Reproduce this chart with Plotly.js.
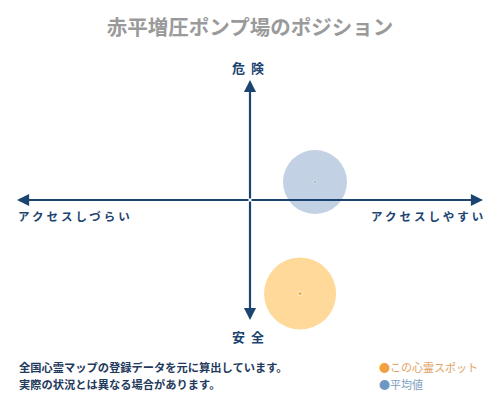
<!DOCTYPE html>
<html>
<head>
<meta charset="utf-8">
<script src="https://cdn.plot.ly/plotly-3.0.1.min.js"></script>
<style>
  body { margin: 0; background: #fff; }
  #chart { width: 500px; height: 400px; }
</style>
</head>
<body>
<div id="chart"></div>
<script>
// position of this spot and the average, on a -1..1 grid
var spotNames = ['この心霊スポット', '平均値'];
var spotX = [0.215, 0.279];
var spotY = [-0.78, 0.15];
var spotColors = ['#fdc96d', '#a8bdd7'];
var dotColors = ['#f4a52a', '#1f3550'];

var axisLabels = ['危険', '安全', 'アクセスしづらい', 'アクセスしやすい'];
var noteLines = ['全国心霊マップの登録データを元に算出しています。', '実際の状況とは異なる場合があります。'];

var font = '"Noto Sans CJK JP", "Noto Sans", sans-serif';
var navy = '#1c4470';

// plot area in pixels, used to place the free texts
var padL = 17, padT = 80, plotW = 466, plotH = 240;
function px(x) { return (x - padL) / plotW; }
function py(y) { return 1 - (y - padT) / plotH; }

var circles = {
  x: spotX, y: spotY, mode: 'markers', type: 'scatter', hoverinfo: 'skip', cliponaxis: false,
  marker: { size: [72, 64], color: spotColors, line: { width: 0 } }
};
var dots = {
  x: spotX, y: spotY, mode: 'markers', type: 'scatter', hoverinfo: 'skip', cliponaxis: false,
  marker: { size: [4.5, 2.5], color: dotColors }
};

function arrow(x, y) {
  return {
    x: x, y: y, ax: 0, ay: 0, xref: 'x', yref: 'y', axref: 'x', ayref: 'y',
    text: '', showarrow: true, arrowhead: 2, arrowsize: 1.1, arrowwidth: 2.2,
    arrowcolor: navy, standoff: 0, startstandoff: 0
  };
}

function label(text, x, y, size, color, bold) {
  return {
    text: text, x: px(x), y: py(y), xref: 'paper', yref: 'paper',
    xanchor: 'center', yanchor: 'middle', showarrow: false,
    font: { family: font, size: size, color: color, weight: bold ? 'bold' : 'normal' }
  };
}

var annotations = [
  arrow(1, 0), arrow(-1, 0), arrow(0, 1), arrow(0, -1),
  label(axisLabels[0], 251, 67, 13, navy, true),
  label(axisLabels[1], 251, 336, 13, navy, true),
  label(axisLabels[2], 75, 216, 11.5, navy, true),
  label(axisLabels[3], 428, 216, 11.5, navy, true)
];

// footer notes, left aligned
[367, 384].forEach(function (y, k) {
  var a = label(noteLines[k], 17, y, 11.25, '#1f3a5c', true);
  a.x = px(17);
  a.xanchor = 'left';
  annotations.push(a);
});

// legend
var legendColors = ['#f2a040', '#6e98c4'];
var legendText = ['#e0a060', '#7c9ec2'];
[367, 384].forEach(function (y, k) {
  var a = label('<span style="color:' + legendColors[k] + '">●</span>' + spotNames[k], 377, y, 11, legendText[k], false);
  a.x = px(377);
  a.xanchor = 'left';
  annotations.push(a);
});

var layout = {
  width: 500,
  height: 400,
  margin: { t: padT, b: 400 - padT - plotH, l: padL, r: 500 - padL - plotW, pad: 0 },
  paper_bgcolor: '#fff',
  plot_bgcolor: '#fff',
  showlegend: false,
  title: {
    text: '赤平増圧ポンプ場のポジション',
    x: 0.5, xref: 'paper', y: 1 - 28 / 400, yref: 'container', yanchor: 'middle',
    font: { family: font, size: 20.5, color: '#9a9a9a', weight: 'bold' }
  },
  xaxis: { range: [-1, 1], visible: false, fixedrange: true },
  yaxis: { range: [-1, 1], visible: false, fixedrange: true },
  annotations: annotations
};

Plotly.newPlot('chart', [circles, dots], layout, { staticPlot: true }).then(function () {
  // spaced-out letters on the axis labels, as in the reference
  document.querySelectorAll('.annotation-text').forEach(function (t) {
    var s = t.textContent;
    if (s === axisLabels[0] || s === axisLabels[1]) {
      t.style.letterSpacing = '6px';
    } else if (s === axisLabels[2] || s === axisLabels[3]) {
      t.style.letterSpacing = '3px';
    }
  });
});
</script>
</body>
</html>
